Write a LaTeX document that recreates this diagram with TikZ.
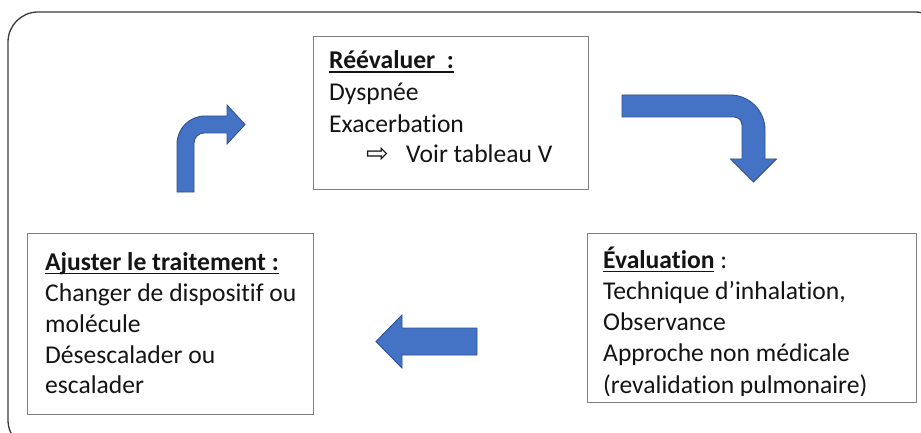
\documentclass[tikz,border=0pt]{standalone}
\usepackage{fontspec}
\setmainfont{Carlito}[Ligatures={NoCommon}]
\newfontfamily\symfont{DejaVu Sans}
\newsavebox{\myulbox}
\newcommand{\myul}[1]{\sbox{\myulbox}{#1}\rlap{\rule[-4.4pt]{\wd\myulbox}{1.7pt}}\usebox{\myulbox}}
\definecolor{arrowfill}{HTML}{4472C4}
\definecolor{arrowline}{HTML}{2F528F}
\definecolor{boxline}{HTML}{808080}
\definecolor{frameline}{HTML}{3A3A3A}
\begin{document}
\begin{tikzpicture}[x=1pt,y=-1pt,
  txt/.style={anchor=base west,inner sep=0pt,font=\fontsize{25.6}{30}\selectfont,text=black!92},
  boxrect/.style={draw=boxline,line width=0.9pt,fill=white},
  blockarrow/.style={fill=arrowfill,draw=arrowline,line width=0.9pt,line join=miter}]
\useasboundingbox (0,0) rectangle (921,433);
% outer frame
\draw[frameline,line width=1.3pt,rounded corners=30pt] (8,12) rectangle (945,450);
% boxes
\draw[boxrect] (313,36) rectangle (588,189);
\draw[boxrect] (27,233) rectangle (313,414);
\draw[boxrect] (587,233) rectangle (916,402.5);
% top box text
\node[txt] (t1) at (329,68.5) {\textbf{\myul{Réévaluer\hspace{0.45em}:}}};
\node[txt] (t2) at (329,100.5) {Dyspnée};
\node[txt] (t3) at (329,132) {Exacerbation};
\node[txt] (t4) at (366,163) {{\symfont\fontsize{27}{30}\selectfont ⇨}};
\node[txt] (t5) at (406,163) {Voir tableau V};
% left box text
\node[txt] (l1) at (45,270) {\textbf{\myul{Ajuster le traitement :}}};
\node[txt] (l2) at (45,301) {Changer de dispositif ou};
\node[txt] (l3) at (45,332) {molécule};
\node[txt] (l4) at (45,363) {Désescalader ou};
\node[txt] (l5) at (45,393) {escalader};
% right box text
\node[txt] (r1) at (603,268) {\textbf{\myul{Évaluation}} :};
\node[txt] (r2) at (603,299) {Technique d’inhalation,};
\node[txt] (r3) at (603,330) {Observance};
\node[txt] (r4) at (603,361.5) {Approche non médicale};
\begin{scope}
\clip (587,233) rectangle (916,395);
\node[txt] (r5) at (603,393.5) {(revalidation pulmonaire)};
\end{scope}
% bent-up arrow (left)
\draw[blockarrow] (177,192) -- (177,144) .. controls (177,128.5) and (189.5,116) .. (205,116)
  -- (227,116) -- (227,105) -- (245,124.5) -- (227,144) -- (227,133) -- (204,133)
  .. controls (198.5,133) and (194,137.5) .. (194,143) -- (194,192) -- cycle;
% bent-down arrow (right)
\draw[blockarrow] (622,95) -- (730,95) .. controls (749.3,95) and (765,110.7) .. (765,130)
  -- (765,159) -- (776.5,159) -- (753.5,182) -- (730.5,159) -- (742,159) -- (742,125)
  .. controls (742,120.6) and (738.4,117) .. (734,117) -- (622,117) -- cycle;
% left arrow (bottom)
\draw[blockarrow] (477,328) -- (402,328) -- (402,315) -- (376,341.5) -- (402,368)
  -- (402,355) -- (477,355) -- cycle;
\end{tikzpicture}
\end{document}
